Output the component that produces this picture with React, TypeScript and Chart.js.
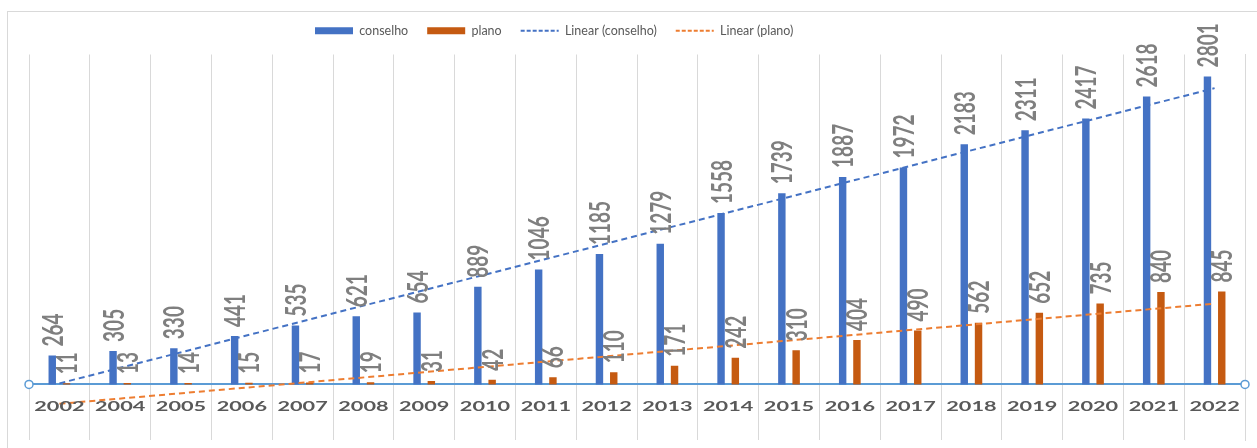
import React, { useEffect, useRef } from 'react';
import { Chart, registerables } from 'chart.js';

Chart.register(...registerables);

const years = ['2002', '2004', '2005', '2006', '2007', '2008', '2009', '2010', '2011', '2012', '2013', '2014', '2015', '2016', '2017', '2018', '2019', '2020', '2021', '2022'];
const conselho = [264, 305, 330, 441, 535, 621, 654, 889, 1046, 1185, 1279, 1558, 1739, 1887, 1972, 2183, 2311, 2417, 2618, 2801];
const plano = [11, 13, 14, 15, 17, 19, 31, 42, 66, 110, 171, 242, 310, 404, 490, 562, 652, 735, 840, 845];
// trend line end points (Excel "Linear" trendlines)
const trendConselho = [10, null, null, null, null, null, null, null, null, null, null, null, null, null, null, null, null, null, null, 2694];
const trendPlano = [-176, null, null, null, null, null, null, null, null, null, null, null, null, null, null, null, null, null, null, 735];
const seriesNames = ['conselho', 'plano', 'Linear (conselho)', 'Linear (plano)'];

const STRETCH = 1.55;
const LEGEND_PAD = 19;

const decorPlugin = {
  id: 'decor',
  beforeDraw(chart: any) {
    const ctx = chart.ctx;
    ctx.save();
    ctx.fillStyle = '#ffffff';
    ctx.fillRect(0, 0, chart.width, chart.height);
    ctx.strokeStyle = '#d9d9d9';
    ctx.lineWidth = 1;
    ctx.strokeRect(7.5, 11.5, 3000, 3000);
    ctx.restore();
    const lg = chart.legend;
    if (lg) {
      lg.left = 315 - LEGEND_PAD;
      lg.top = 31 - 6.5 - LEGEND_PAD;
    }
  },
  afterDatasetsDraw(chart: any) {
    const ctx = chart.ctx;
    ctx.save();
    ctx.fillStyle = '#7f7f7f';
    ctx.font = 'bold 19px Lato';
    ctx.textAlign = 'left';
    ctx.textBaseline = 'alphabetic';
    [0, 1].forEach((di) => {
      const meta = chart.getDatasetMeta(di);
      const vals = chart.data.datasets[di].data;
      meta.data.forEach((bar: any, i: number) => {
        const p = bar.getProps(['x', 'y'], true);
        ctx.save();
        ctx.translate(p.x, p.y - 9);
        ctx.rotate(-Math.PI / 2);
        ctx.scale(1, STRETCH);
        ctx.fillText(String(vals[i]), 0, 6.8);
        ctx.restore();
      });
    });
    ctx.restore();
  },
  afterDraw(chart: any) {
    const ctx = chart.ctx;
    const xs = chart.scales.x;
    const ys = chart.scales.y;
    const y0 = ys.getPixelForValue(0);
    ctx.save();
    ctx.fillStyle = '#595959';
    ctx.font = 'bold 14px Lato';
    ctx.textAlign = 'center';
    ctx.textBaseline = 'alphabetic';
    chart.data.labels.forEach((lab: string, i: number) => {
      const x = xs.getPixelForValue(i);
      ctx.save();
      ctx.translate(x, y0 + 27);
      ctx.scale(STRETCH, 1);
      ctx.fillText(lab, 0, 0);
      ctx.restore();
    });
    const ca = chart.chartArea;
    [ca.left, ca.right].forEach((x: number) => {
      ctx.beginPath();
      ctx.arc(x, y0, 4, 0, Math.PI * 2);
      ctx.fillStyle = '#ffffff';
      ctx.fill();
      ctx.lineWidth = 1.5;
      ctx.strokeStyle = '#5B9BD5';
      ctx.stroke();
    });
    ctx.restore();
  },
};

export default function App() {
  const ref = useRef<HTMLCanvasElement>(null);
  useEffect(() => {
    const chart = new Chart(ref.current as HTMLCanvasElement, {
      type: 'bar',
      data: {
        labels: years,
        datasets: [
          {
            type: 'bar',
            label: seriesNames[0],
            data: conselho,
            backgroundColor: '#4472C4',
            borderWidth: 0,
            pointStyle: 'rect',
            order: 1,
            categoryPercentage: 0.47,
            barPercentage: 0.52,
          } as any,
          {
            type: 'bar',
            label: seriesNames[1],
            data: plano,
            backgroundColor: '#C55A11',
            borderWidth: 0,
            pointStyle: 'rect',
            order: 1,
            categoryPercentage: 0.47,
            barPercentage: 0.52,
          } as any,
          {
            type: 'line',
            label: seriesNames[2],
            data: trendConselho,
            borderColor: '#4472C4',
            backgroundColor: '#4472C4',
            borderWidth: 2,
            borderDash: [6, 4],
            pointRadius: 0,
            pointStyle: 'line',
            spanGaps: true,
            order: 0,
          } as any,
          {
            type: 'line',
            label: seriesNames[3],
            data: trendPlano,
            borderColor: '#ED7D31',
            backgroundColor: '#ED7D31',
            borderWidth: 2,
            borderDash: [6, 4],
            pointRadius: 0,
            pointStyle: 'line',
            spanGaps: true,
            order: 0,
          } as any,
        ],
      },
      options: {
        responsive: false,
        animation: false,
        layout: { padding: { left: 29, right: 12, top: 13, bottom: 8 } },
        plugins: {
          tooltip: { enabled: false },
          legend: {
            display: true,
            position: 'top',
            align: 'start',
            labels: {
              usePointStyle: true,
              pointStyleWidth: 38,
              boxHeight: 7,
              padding: LEGEND_PAD,
              color: '#595959',
              font: { family: 'Lato', size: 12.5 },
              sort: (a: any, b: any) => a.datasetIndex - b.datasetIndex,
              generateLabels: (c: any) => {
                const items = (Chart.defaults as any).plugins.legend.labels.generateLabels(c);
                return items.map((it: any) => {
                  const ds: any = c.data.datasets[it.datasetIndex];
                  if (ds.type === 'line') {
                    it.lineDash = [4, 2];
                    it.lineWidth = 2;
                    it.strokeStyle = ds.borderColor;
                  } else {
                    it.lineWidth = 0;
                  }
                  return it;
                });
              },
            },
          },
        },
        scales: {
          x: {
            type: 'category',
            position: { y: 0 } as any,
            grid: { display: true, offset: true, color: '#d9d9d9', lineWidth: 1, drawTicks: false },
            border: { display: true, color: '#5B9BD5', width: 2 },
            ticks: { display: false },
          },
          y: {
            type: 'linear',
            position: 'right',
            min: -505,
            max: 3000,
            grid: { display: false, drawTicks: false },
            border: { display: true, color: '#d9d9d9', width: 1 },
            ticks: { display: false },
            afterFit: (s: any) => {
              s.width = 0;
            },
          },
        },
      },
      plugins: [decorPlugin],
    });
    return () => chart.destroy();
  }, []);
  return (
    <div style={{ position: 'absolute', left: 0, top: 0, width: 1257, height: 448, background: '#fff' }}>
      <canvas ref={ref} width={1257} height={448} style={{ display: 'block', width: 1257, height: 448 }} />
    </div>
  );
}
